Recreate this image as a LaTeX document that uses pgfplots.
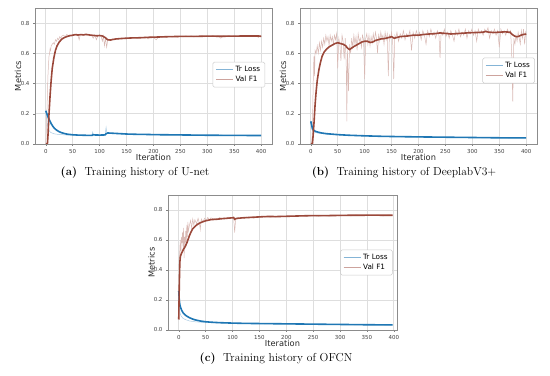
\documentclass[border=0pt]{standalone}
\usepackage{fontspec}
\setsansfont{DejaVu Sans}
\usepackage{pgfplots}
\pgfplotsset{compat=1.18}
\definecolor{lossc}{HTML}{1F77B4}
\definecolor{f1c}{RGB}{155,72,58}
\colorlet{lossraw}{lossc!38!white}
\colorlet{f1raw}{f1c!38!white}
\colorlet{losslg}{lossc!55!white}
\colorlet{f1lg}{f1c!50!white}
\pgfplotsset{histstyle/.style={
  scale only axis, xmin=-20, xmax=420, ymin=0, ymax=0.9,
  xtick={0,50,100,150,200,250,300,350,400},
  ytick={0,0.2,0.4,0.6,0.8},
  grid=major, grid style={line width=0.6pt, draw=black!13},
  axis line style={draw=black!45, line width=0.6pt},
  tick align=outside, major tick length=2bp, tick style={draw=black!50, line width=0.5pt},
  xtick pos=left, ytick pos=left,
  /pgf/number format/assume math mode=true,
  tick label style={font=\sffamily\fontsize{5.5}{6}\selectfont, text=black!75},
  yticklabel style={/pgf/number format/.cd, fixed, fixed zerofill, precision=1},
  xticklabel style={/pgf/number format/.cd, fixed, precision=0},
  xlabel={Iteration}, ylabel={Metrics},
  label style={font=\sffamily\fontsize{8.3}{10}\selectfont, text=black!85},
  xlabel style={at={(axis description cs:0.5,-0.1)}, anchor=center},
  ylabel style={at={(axis description cs:-0.072,0.5)}, anchor=center},
  legend cell align=left,
  legend style={font=\sffamily\fontsize{7.3}{9}\selectfont, draw=none,
    fill=white, inner xsep=2.5pt, inner ysep=2pt, row sep=-1pt},
}}
\tikzset{raw/.style={line width=0.5pt},
         thickline/.style={line width=1.6pt},
         legframe/.style={draw=black!20, line width=0.5pt, rounded corners=1.5pt}}
\begin{document}
\begin{tikzpicture}
\path[use as bounding box] (0,0) rectangle (550bp,376bp);
% ---------------- (a) U-net ----------------
\begin{axis}[histstyle, at={(35bp,232bp)}, anchor=south west, width=237bp, height=136bp,
  legend style={at={(0.97,0.51)}, anchor=east, name=legA}]
\addlegendimage{losslg, line width=0.9pt}
\addlegendentry{Tr Loss}
\addlegendimage{f1lg, line width=0.9pt}
\addlegendentry{Val F1}
\addplot[raw, color=lossraw, forget plot] coordinates {(0,0.22)(1,0.19)(2,0.16)(3,0.13)(4,0.11)(5,0.10)(6,0.09)(8,0.08)(10,0.075)(12,0.072)(15,0.068)(18,0.066)(20,0.065)(25,0.063)(30,0.062)(35,0.060)(40,0.059)(45,0.058)(50,0.058)(55,0.057)(60,0.057)(65,0.056)(70,0.057)(75,0.056)(80,0.056)(85,0.057)(86,0.062)(87,0.078)(88,0.063)(90,0.058)(95,0.058)(100,0.058)(105,0.059)(110,0.061)(111,0.085)(112,0.11)(113,0.08)(115,0.073)(120,0.071)(130,0.068)(140,0.066)(150,0.064)(160,0.063)(170,0.062)(180,0.062)(188,0.061)(190,0.066)(192,0.061)(200,0.060)(220,0.059)(240,0.059)(260,0.058)(280,0.058)(300,0.057)(320,0.057)(325,0.060)(330,0.057)(350,0.056)(370,0.056)(390,0.055)(400,0.055)};
\addplot[raw, color=f1raw, forget plot] coordinates {(0,0)(1,0.08)(2,0.2)(3,0.32)(4,0.45)(5,0.52)(6,0.58)(7,0.6)(8,0.63)(9,0.62)(10,0.65)(12,0.66)(14,0.67)(16,0.66)(18,0.69)(20,0.68)(22,0.70)(24,0.69)(26,0.71)(28,0.70)(30,0.715)(33,0.72)(36,0.71)(39,0.725)(42,0.718)(45,0.722)(48,0.715)(51,0.725)(54,0.72)(57,0.728)(60,0.715)(62,0.69)(64,0.722)(67,0.725)(70,0.718)(73,0.728)(76,0.72)(79,0.725)(82,0.715)(85,0.72)(88,0.70)(91,0.722)(94,0.69)(97,0.718)(100,0.72)(103,0.71)(105,0.68)(107,0.715)(109,0.65)(111,0.70)(113,0.64)(115,0.685)(118,0.69)(121,0.685)(124,0.695)(127,0.69)(130,0.698)(134,0.693)(138,0.70)(142,0.695)(146,0.703)(150,0.698)(155,0.705)(160,0.70)(165,0.706)(170,0.70)(175,0.707)(180,0.702)(185,0.708)(190,0.695)(195,0.71)(200,0.705)(205,0.69)(210,0.71)(215,0.705)(220,0.712)(225,0.706)(230,0.712)(235,0.708)(240,0.714)(245,0.707)(250,0.713)(255,0.709)(260,0.715)(265,0.71)(270,0.716)(275,0.708)(280,0.714)(285,0.71)(290,0.716)(295,0.709)(300,0.715)(305,0.71)(310,0.717)(315,0.711)(320,0.716)(325,0.70)(330,0.715)(335,0.712)(340,0.717)(345,0.71)(350,0.716)(355,0.711)(360,0.717)(365,0.712)(370,0.716)(375,0.71)(380,0.717)(385,0.712)(390,0.716)(395,0.705)(398,0.72)(400,0.71)};
\addplot[thickline, color=lossc, forget plot] coordinates {(0,0.22)(2,0.2)(4,0.18)(6,0.165)(8,0.15)(10,0.135)(13,0.118)(16,0.104)(20,0.092)(25,0.081)(30,0.074)(35,0.069)(40,0.065)(50,0.061)(60,0.059)(70,0.058)(80,0.057)(86,0.057)(88,0.062)(90,0.060)(100,0.059)(110,0.060)(112,0.068)(115,0.073)(120,0.072)(130,0.070)(140,0.068)(150,0.066)(170,0.064)(190,0.063)(200,0.062)(250,0.060)(300,0.058)(350,0.057)(400,0.056)};
\addplot[thickline, color=f1c, forget plot] coordinates {(0,0)(3,0)(4,0.05)(6,0.2)(8,0.32)(10,0.42)(12,0.5)(15,0.57)(18,0.62)(21,0.65)(25,0.675)(30,0.695)(35,0.705)(40,0.712)(45,0.717)(50,0.72)(55,0.724)(60,0.721)(65,0.724)(70,0.722)(75,0.725)(80,0.722)(85,0.72)(90,0.718)(95,0.716)(100,0.718)(105,0.715)(110,0.705)(115,0.69)(120,0.688)(125,0.692)(130,0.695)(140,0.698)(150,0.70)(160,0.702)(175,0.703)(190,0.706)(200,0.707)(225,0.71)(250,0.712)(275,0.712)(300,0.714)(325,0.713)(350,0.714)(375,0.715)(395,0.715)(400,0.712)};
\end{axis}
\draw[legframe] (legA.south west) rectangle (legA.north east);
% ---------------- (b) DeeplabV3+ ----------------
\begin{axis}[histstyle, at={(300bp,232bp)}, anchor=south west, width=237bp, height=136bp,
  legend style={at={(0.99,0.54)}, anchor=east, name=legB}]
\addlegendimage{losslg, line width=0.9pt}
\addlegendentry{Tr Loss}
\addlegendimage{f1lg, line width=0.9pt}
\addlegendentry{Val F1}
\addplot[raw, color=lossraw, forget plot] coordinates {(0,0.15)(1,0.11)(2,0.095)(3,0.088)(5,0.082)(8,0.077)(12,0.073)(20,0.069)(30,0.065)(40,0.062)(60,0.058)(80,0.055)(100,0.053)(150,0.049)(200,0.046)(250,0.044)(300,0.042)(350,0.040)(400,0.039)};
\addplot[raw, color=f1raw, forget plot] coordinates {(0,0)(2,0.02)(3,0.1)(4,0.3)(5,0.5)(6,0.58)(7,0.45)(8,0.62)(10,0.6)(12,0.65)(14,0.6)(16,0.67)(18,0.62)(20,0.68)(22,0.64)(24,0.7)(26,0.66)(28,0.72)(30,0.68)(32,0.71)(34,0.65)(36,0.72)(38,0.68)(40,0.71)(42,0.66)(44,0.72)(46,0.69)(48,0.73)(50,0.5)(52,0.7)(54,0.66)(56,0.55)(58,0.72)(60,0.68)(62,0.56)(64,0.7)(66,0.5)(67,0.15)(68,0.62)(70,0.35)(72,0.66)(74,0.6)(76,0.7)(78,0.64)(80,0.72)(82,0.66)(84,0.71)(86,0.62)(88,0.73)(90,0.68)(92,0.7)(94,0.64)(96,0.72)(98,0.69)(100,0.43)(102,0.7)(104,0.73)(106,0.66)(108,0.72)(110,0.65)(112,0.71)(114,0.67)(116,0.73)(118,0.68)(120,0.74)(122,0.7)(124,0.6)(126,0.73)(128,0.68)(130,0.74)(132,0.7)(134,0.72)(136,0.66)(138,0.74)(140,0.69)(142,0.73)(144,0.45)(146,0.72)(148,0.7)(150,0.74)(152,0.68)(154,0.43)(156,0.72)(158,0.7)(160,0.74)(163,0.68)(166,0.73)(169,0.7)(172,0.75)(175,0.69)(178,0.73)(181,0.71)(184,0.75)(187,0.62)(190,0.74)(193,0.7)(196,0.75)(199,0.71)(202,0.74)(205,0.69)(208,0.75)(211,0.72)(214,0.66)(217,0.75)(220,0.71)(223,0.76)(226,0.72)(229,0.74)(232,0.7)(235,0.75)(238,0.72)(240,0.57)(242,0.74)(245,0.72)(248,0.76)(251,0.71)(254,0.74)(257,0.7)(260,0.75)(263,0.72)(266,0.68)(269,0.75)(272,0.72)(275,0.76)(278,0.71)(281,0.74)(284,0.72)(287,0.76)(290,0.7)(293,0.75)(296,0.73)(299,0.76)(302,0.72)(305,0.75)(308,0.68)(311,0.76)(314,0.73)(317,0.75)(320,0.72)(323,0.76)(326,0.74)(329,0.77)(332,0.7)(335,0.75)(338,0.73)(341,0.76)(344,0.72)(347,0.75)(350,0.64)(353,0.76)(356,0.73)(359,0.75)(362,0.72)(365,0.76)(368,0.73)(371,0.75)(373,0.6)(375,0.28)(377,0.7)(379,0.66)(381,0.72)(383,0.68)(385,0.74)(387,0.7)(389,0.66)(391,0.75)(393,0.7)(395,0.76)(397,0.66)(399,0.74)(400,0.72)};
\addplot[thickline, color=lossc, forget plot] coordinates {(0,0.15)(1,0.135)(2,0.12)(3,0.105)(4,0.098)(5,0.092)(7,0.087)(10,0.082)(15,0.077)(20,0.073)(30,0.068)(40,0.065)(50,0.062)(70,0.058)(100,0.054)(130,0.051)(160,0.049)(200,0.047)(250,0.045)(300,0.043)(350,0.041)(400,0.040)};
\addplot[thickline, color=f1c, forget plot] coordinates {(0,0)(3,0)(4,0.04)(6,0.14)(8,0.26)(10,0.35)(12,0.42)(15,0.49)(18,0.54)(21,0.58)(25,0.61)(30,0.63)(35,0.645)(40,0.655)(45,0.665)(50,0.67)(55,0.665)(60,0.66)(65,0.65)(68,0.635)(72,0.625)(76,0.635)(80,0.645)(85,0.655)(90,0.665)(95,0.675)(100,0.68)(105,0.68)(110,0.672)(115,0.675)(120,0.685)(125,0.69)(130,0.695)(135,0.697)(140,0.70)(145,0.705)(150,0.71)(155,0.70)(160,0.705)(165,0.71)(170,0.712)(180,0.715)(190,0.72)(200,0.72)(210,0.725)(220,0.728)(230,0.73)(240,0.735)(250,0.732)(260,0.728)(270,0.73)(280,0.733)(290,0.735)(300,0.737)(310,0.738)(320,0.74)(325,0.745)(330,0.74)(340,0.738)(350,0.74)(360,0.742)(370,0.74)(374,0.725)(378,0.715)(382,0.71)(386,0.712)(390,0.72)(395,0.725)(400,0.728)};
\end{axis}
\draw[legframe] (legB.south west) rectangle (legB.north east);
% ---------------- (c) OFCN ----------------
\begin{axis}[histstyle, at={(168bp,46bp)}, anchor=south west, width=229bp, height=135bp, xmax=406,
  legend style={at={(0.98,0.50)}, anchor=east, name=legC}]
\addlegendimage{losslg, line width=0.9pt}
\addlegendentry{Tr Loss}
\addlegendimage{f1lg, line width=0.9pt}
\addlegendentry{Val F1}
\addplot[raw, color=lossraw, forget plot] coordinates {(0,0.26)(1,0.15)(2,0.12)(3,0.105)(5,0.09)(8,0.078)(12,0.07)(16,0.065)(20,0.06)(30,0.055)(40,0.052)(50,0.05)(75,0.047)(100,0.045)(150,0.042)(200,0.04)(250,0.038)(300,0.036)(350,0.034)(398,0.033)};
\addplot[raw, color=f1raw, forget plot] coordinates {(0,0.07)(1,0.4)(2,0.55)(3,0.6)(4,0.5)(5,0.62)(6,0.58)(7,0.65)(8,0.55)(9,0.68)(10,0.48)(11,0.62)(12,0.58)(13,0.66)(14,0.56)(15,0.7)(16,0.62)(17,0.72)(18,0.66)(20,0.7)(22,0.73)(24,0.68)(26,0.74)(28,0.7)(30,0.735)(33,0.71)(36,0.745)(39,0.7)(40,0.67)(42,0.74)(45,0.72)(48,0.745)(51,0.73)(54,0.75)(57,0.735)(60,0.748)(64,0.74)(68,0.745)(72,0.738)(76,0.75)(80,0.742)(84,0.748)(88,0.74)(92,0.752)(96,0.744)(100,0.75)(102,0.752)(104,0.65)(106,0.745)(110,0.748)(114,0.742)(118,0.752)(122,0.745)(126,0.754)(130,0.748)(135,0.755)(140,0.745)(145,0.756)(150,0.75)(155,0.757)(160,0.752)(165,0.758)(170,0.752)(175,0.757)(180,0.753)(190,0.76)(200,0.755)(210,0.76)(220,0.756)(230,0.762)(240,0.757)(250,0.762)(260,0.758)(270,0.763)(280,0.759)(290,0.764)(300,0.76)(310,0.766)(320,0.761)(330,0.766)(340,0.762)(350,0.767)(360,0.762)(370,0.766)(380,0.761)(390,0.766)(398,0.764)};
\addplot[thickline, color=lossc, forget plot] coordinates {(0,0.26)(1,0.2)(2,0.17)(3,0.155)(5,0.135)(8,0.115)(12,0.1)(16,0.09)(20,0.082)(25,0.074)(30,0.068)(35,0.064)(40,0.06)(50,0.055)(60,0.052)(75,0.049)(100,0.046)(125,0.044)(150,0.043)(200,0.041)(250,0.039)(300,0.037)(350,0.035)(398,0.034)};
\addplot[thickline, color=f1c, forget plot] coordinates {(0,0.07)(1,0.3)(2,0.45)(3,0.49)(5,0.51)(7,0.525)(9,0.54)(11,0.55)(13,0.565)(15,0.58)(17,0.6)(20,0.63)(23,0.655)(26,0.675)(30,0.69)(35,0.705)(40,0.715)(45,0.722)(50,0.728)(55,0.732)(60,0.736)(70,0.738)(80,0.742)(90,0.745)(100,0.748)(102,0.75)(104,0.738)(106,0.742)(110,0.745)(120,0.748)(130,0.75)(140,0.752)(150,0.754)(160,0.756)(170,0.757)(180,0.756)(200,0.758)(220,0.76)(240,0.762)(260,0.762)(280,0.763)(300,0.764)(320,0.765)(340,0.765)(360,0.766)(380,0.765)(398,0.765)};
\end{axis}
\draw[legframe] (legC.south west) rectangle (legC.north east);
% ---------------- captions ----------------
\node[font=\fontsize{11.6}{13}\selectfont] at (135bp,203bp) {\textbf{(a)}\ \ Training history of U-net};
\node[font=\fontsize{11.6}{13}\selectfont] at (404bp,203bp) {\textbf{(b)}\ \ Training history of DeeplabV3+};
\node[font=\fontsize{11.6}{13}\selectfont] at (276bp,17bp) {\textbf{(c)}\ \ Training history of OFCN};
\end{tikzpicture}
\end{document}
